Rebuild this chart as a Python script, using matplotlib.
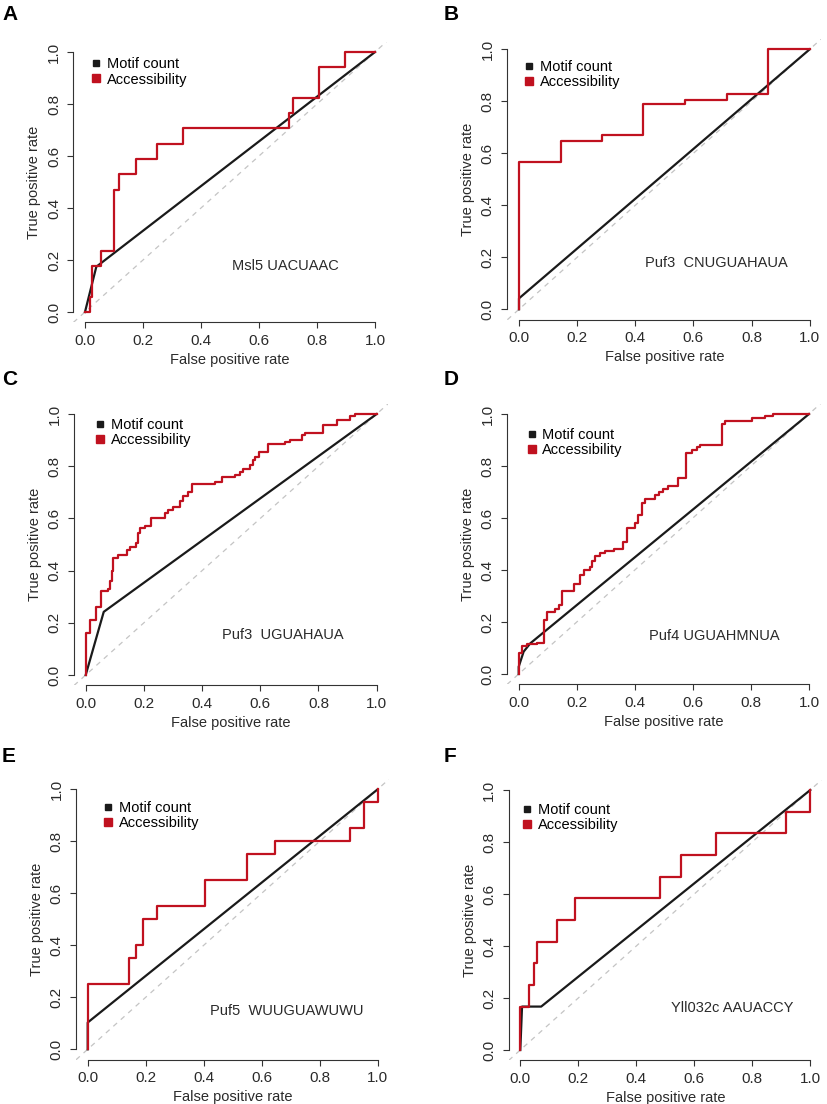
import matplotlib
matplotlib.use('Agg')
import matplotlib.pyplot as plt
from matplotlib.lines import Line2D

plt.rcParams['font.family'] = ['Liberation Sans', 'DejaVu Sans']

# ---- data ----
ticks = [0.0, 0.2, 0.4, 0.6, 0.8, 1.0]
tick_labels = ['0.0', '0.2', '0.4', '0.6', '0.8', '1.0']
series_names = ['Motif count', 'Accessibility']

# A  Msl5
a_motif_fpr = [0, 0.039, 1.0]
a_motif_tpr = [0, 0.174, 1.0]
a_acc_fpr = [0, 0.016, 0.024, 0.054, 0.1, 0.117, 0.175, 0.247, 0.337, 0.703, 0.718, 0.808, 0.897, 1.0]
a_acc_tpr = [0, 0.059, 0.176, 0.235, 0.471, 0.529, 0.588, 0.647, 0.706, 0.765, 0.824, 0.941, 1.0, 1.0]

# B  Puf3 CNUGUAHAUA
b_motif_fpr = [0, 0, 1.0]
b_motif_tpr = [0, 0.042, 1.0]
b_acc_fpr = [0, 0, 0.143, 0.286, 0.428, 0.572, 0.714, 0.857, 1.0]
b_acc_tpr = [0, 0.565, 0.646, 0.672, 0.791, 0.805, 0.83, 1.0, 1.0]

# C  Puf3 UGUAHAUA
c_motif_fpr = [0, 0.062, 1.0]
c_motif_tpr = [0, 0.242, 1.0]
c_acc_fpr = [0, 0, 0.002, 0.014, 0.036, 0.051, 0.077, 0.083, 0.089, 0.094,
             0.11, 0.143, 0.151, 0.174, 0.18, 0.186, 0.203, 0.223, 0.271, 0.283,
             0.3, 0.325, 0.335, 0.35, 0.367, 0.444, 0.467, 0.513, 0.53, 0.542,
             0.565, 0.574, 0.582, 0.594, 0.628, 0.685, 0.702, 0.742, 0.753, 0.817,
             0.862, 0.908, 0.925, 1.0]
c_acc_tpr = [0, 0.089, 0.16, 0.21, 0.26, 0.32, 0.33, 0.36, 0.40, 0.447,
             0.46, 0.478, 0.49, 0.505, 0.543, 0.562, 0.571, 0.6, 0.619, 0.632,
             0.642, 0.668, 0.686, 0.702, 0.731, 0.74, 0.76, 0.768, 0.779, 0.788,
             0.804, 0.824, 0.836, 0.856, 0.884, 0.891, 0.9, 0.919, 0.928, 0.958,
             0.977, 0.992, 1.0, 1.0]

# D  Puf4
d_motif_fpr = [0, 0, 0.017, 0.04, 1.0]
d_motif_tpr = [0, 0.028, 0.086, 0.118, 1.0]
d_acc_fpr = [0, 0, 0.011, 0.029, 0.063, 0.086, 0.097, 0.126, 0.138, 0.149,
             0.189, 0.212, 0.224, 0.247, 0.253, 0.264, 0.281, 0.298, 0.327, 0.36,
             0.372, 0.401, 0.412, 0.424, 0.435, 0.469, 0.484, 0.498, 0.515, 0.55,
             0.576, 0.596, 0.613, 0.625, 0.699, 0.711, 0.802, 0.848, 0.877, 1.0]
d_acc_tpr = [0, 0.082, 0.107, 0.115, 0.12, 0.208, 0.24, 0.249, 0.265, 0.32,
             0.346, 0.38, 0.40, 0.413, 0.436, 0.453, 0.464, 0.473, 0.48, 0.509,
             0.56, 0.579, 0.612, 0.657, 0.672, 0.689, 0.699, 0.71, 0.723, 0.755,
             0.851, 0.861, 0.874, 0.881, 0.96, 0.973, 0.983, 0.994, 1.0, 1.0]

# E  Puf5
e_motif_fpr = [0, 0, 1.0]
e_motif_tpr = [0, 0.103, 1.0]
e_acc_fpr = [0, 0, 0.143, 0.167, 0.191, 0.238, 0.405, 0.548, 0.645, 0.905, 0.954, 1.0]
e_acc_tpr = [0, 0.25, 0.35, 0.40, 0.50, 0.55, 0.65, 0.75, 0.80, 0.85, 0.95, 1.0]

# F  Yll032c
f_motif_fpr = [0, 0.006, 0.072, 1.0]
f_motif_tpr = [0, 0.167, 0.167, 1.0]
f_acc_fpr = [0, 0, 0.029, 0.048, 0.058, 0.128, 0.19, 0.483, 0.553, 0.676, 0.917, 1.0]
f_acc_tpr = [0, 0.167, 0.25, 0.333, 0.417, 0.5, 0.583, 0.667, 0.75, 0.833, 0.917, 1.0]

motif_labels = ['Msl5 UACUAAC', 'Puf3  CNUGUAHAUA', 'Puf3  UGUAHAUA',
                'Puf4 UGUAHMNUA', 'Puf5  WUUGUAWUWU', 'Yll032c AAUACCY']
panel_letters = ['A', 'B', 'C', 'D', 'E', 'F']

# ---- layout (pixels of data 0 and 1 on each axis) ----
W, H = 827, 1104
frames = [(85, 375, 52, 312), (519, 809.7, 49.3, 309.3),
          (85.7, 376.7, 414, 675), (518.7, 809, 414, 674),
          (87.7, 377.7, 789.3, 1049.3), (520.3, 810.3, 790, 1050)]
letter_pos = [(2, 20), (444, 19.5), (2, 385), (444, 385), (2, 762), (444, 762)]
label_pos = [(0.506, 0.178), (0.434, 0.177), (0.467, 0.153),
             (0.449, 0.146), (0.422, 0.148), (0.52, 0.16)]
legend_pos = [(0.018, 0.923), (0.014, 0.904), (0.029, 0.93),
              (0.024, 0.89), (0.051, 0.898), (0.003, 0.894)]

RED = '#c0111f'
INK = '#1a1a1a'
AXC = '#333333'
TXT = '#2a2a2a'

panels = [
    (a_motif_fpr, a_motif_tpr, a_acc_fpr, a_acc_tpr),
    (b_motif_fpr, b_motif_tpr, b_acc_fpr, b_acc_tpr),
    (c_motif_fpr, c_motif_tpr, c_acc_fpr, c_acc_tpr),
    (d_motif_fpr, d_motif_tpr, d_acc_fpr, d_acc_tpr),
    (e_motif_fpr, e_motif_tpr, e_acc_fpr, e_acc_tpr),
    (f_motif_fpr, f_motif_tpr, f_acc_fpr, f_acc_tpr),
]

fig = plt.figure(figsize=(W / 100, H / 100), dpi=100)

for i, (mf, mt, af, at) in enumerate(panels):
    x0, x1, y1, y0 = frames[i]
    dx, dy = (x1 - x0) * 0.04, (y0 - y1) * 0.04
    left, right = x0 - dx, x1 + dx
    top, bottom = y1 - dy, y0 + dy
    ax = fig.add_axes([left / W, 1 - bottom / H, (right - left) / W, (bottom - top) / H])
    ax.set_xlim(-0.04, 1.04)
    ax.set_ylim(-0.04, 1.04)

    ax.axline((0, 0), (1, 1), color='#c4c4c4', lw=0.9, ls=(0, (4, 4)), zorder=1)
    ax.plot(mf, mt, color=INK, lw=1.6, zorder=2)
    ax.step(af, at, where='post', color=RED, lw=1.6, zorder=3)

    for s in ['top', 'right']:
        ax.spines[s].set_visible(False)
    for s in ['bottom', 'left']:
        ax.spines[s].set_bounds(0, 1)
        ax.spines[s].set_color(AXC)
        ax.spines[s].set_linewidth(0.8)
    ax.set_xticks(ticks)
    ax.set_xticklabels(tick_labels)
    ax.set_yticks(ticks)
    ax.set_yticklabels(tick_labels, rotation=90, va='center')
    ax.tick_params(length=4, width=0.8, color=AXC, labelsize=11,
                   labelcolor=TXT, pad=4)
    ax.tick_params(axis='y', pad=5)
    ax.set_xlabel('False positive rate', fontsize=10.5, color=TXT, labelpad=4)
    ax.set_ylabel('True positive rate', fontsize=10.5, color=TXT, labelpad=4)

    ax.text(label_pos[i][0], label_pos[i][1], motif_labels[i], fontsize=10.5,
            color=TXT, ha='left', va='center')

    handles = [Line2D([], [], ls='none', marker='s', ms=4, color=INK),
               Line2D([], [], ls='none', marker='s', ms=5.5, color=RED)]
    ax.legend(handles, series_names, loc='center left',
              bbox_to_anchor=legend_pos[i], bbox_transform=ax.transData,
              frameon=False, fontsize=10.5, handlelength=0.8, handletextpad=0.35,
              labelspacing=0.08, borderpad=0, borderaxespad=0)

    lx, ly = letter_pos[i]
    fig.text(lx / W, 1 - ly / H, panel_letters[i], fontsize=15, fontweight='bold',
             ha='left', va='baseline')

fig.savefig('out.png', dpi=100)
